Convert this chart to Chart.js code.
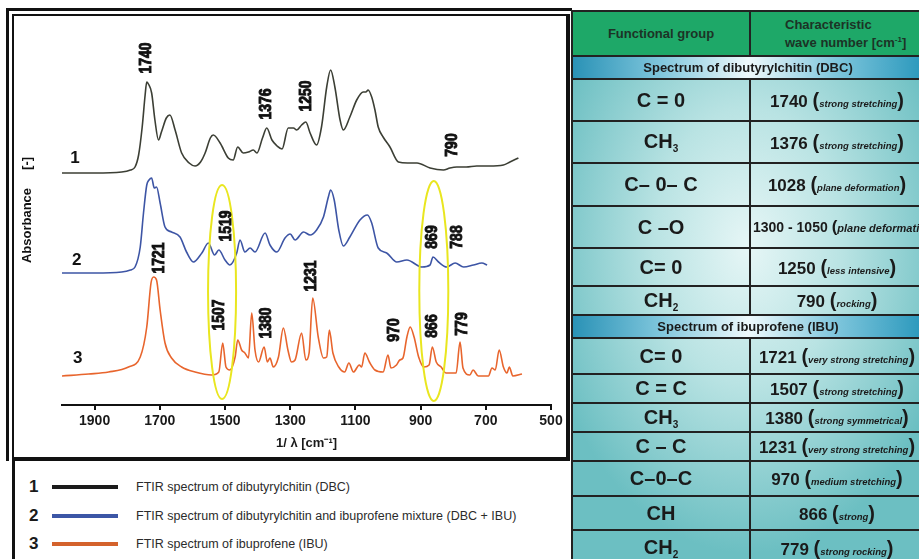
<!DOCTYPE html>
<html>
<head>
<meta charset="utf-8">
<script src="https://cdn.jsdelivr.net/npm/chart.js@4.4.0/dist/chart.umd.min.js"></script>
<style>
  body { margin: 0; width: 919px; height: 559px; overflow: hidden; position: relative; background: #fff;
         font-family: "Liberation Sans", Arial, sans-serif; color: #1a1a1a; }
  #plot { position: absolute; left: 16px; top: 17px; }
  #frameOuter { position: absolute; left: 6px; top: 8px; width: 566px; height: 453px;
                border-left: 3px solid #111; border-top: 3px solid #111; box-sizing: border-box; }
  #frameInner { position: absolute; left: 12px; top: 14px; width: 558px; height: 447px; box-sizing: border-box;
                border-left: 2px solid #111; border-top: 2px solid #111; border-right: 4px solid #111; border-bottom: 4px solid #111; }
  #leftLine { position: absolute; left: 12px; top: 461px; width: 3px; height: 98px; background: #111; }
  .num { position: absolute; font-weight: bold; font-size: 17px; line-height: 20px; }
  .ln { position: absolute; left: 52px; width: 66px; height: 4px; }
  .lt { position: absolute; left: 136px; font-size: 12.5px; line-height: 14px; color: #2b2b2b; white-space: nowrap; }

  #tbl { position: absolute; left: 571px; top: 10px; width: 352px; height: 560px; box-sizing: border-box;
         border-top: 2px solid #222; border-left: 2px solid #222;
         background: radial-gradient(ellipse 60% 55% at 50% 42%, #e6f6f6 0%, #b9e3e3 45%, #6cbfc2 100%); }
  .row { display: flex; box-sizing: border-box; border-bottom: 2px solid #222; }
  .c1 { width: 176px; box-sizing: content-box; border-right: 2px solid #222; display: flex; align-items: center;
        justify-content: center; font-weight: bold; font-size: 20px; white-space: nowrap; }
  .c2 { flex: 1; display: flex; align-items: center; justify-content: center; overflow: hidden; white-space: nowrap;
        font-weight: bold; font-size: 17px; }
  .c2 i { font-size: 9.5px; }
  .c2 .p { font-size: 20px; font-weight: bold; }
  .c1 sub { font-size: 10px; vertical-align: -4px; }
  .head { background: #1ea868; }
  .head .c1, .head .c2 { font-size: 13px; color: #1c3326; }
  .head .c2 { justify-content: flex-start; padding-left: 34px; line-height: 15px; }
  .sec { justify-content: center; align-items: center; font-weight: bold; font-size: 13px;
         background: linear-gradient(90deg, #2a92b6 0%, #7fc6dc 25%, #eef9fc 50%, #7fc6dc 75%, #2a98bc 100%); }
</style>
</head>
<body>
<canvas id="plot" width="551" height="440"></canvas>
<div id="frameOuter"></div>
<div id="frameInner"></div>
<div id="leftLine"></div>

<div class="num" style="left:29px; top:477px">1</div>
<div class="ln" style="top:485px; background:#1b1b1b"></div>
<div class="lt" style="top:480px">FTIR spectrum of dibutyrylchitin (DBC)</div>
<div class="num" style="left:29px; top:506px">2</div>
<div class="ln" style="top:514px; background:#3c56a6"></div>
<div class="lt" style="top:509px">FTIR spectrum of dibutyrylchitin and ibuprofene mixture (DBC + IBU)</div>
<div class="num" style="left:29px; top:534px">3</div>
<div class="ln" style="top:542px; background:#d4622c"></div>
<div class="lt" style="top:537px">FTIR spectrum of ibuprofene (IBU)</div>

<div id="tbl">
  <div class="row head" style="height:45px"><div class="c1">Functional group</div><div class="c2"><span>Characteristic<br>wave number [cm<sup style="font-size:8px">-1</sup>]</span></div></div>
  <div class="row sec" style="height:23px">Spectrum of dibutyrylchitin (DBC)</div>
  <div class="row" style="height:42px"><div class="c1"><span>C = 0</span></div><div class="c2"><span>1740 <span class="p">(</span><i>strong stretching</i><span class="p">)</span></span></div></div>
  <div class="row" style="height:42px"><div class="c1"><span>CH<sub>3</sub></span></div><div class="c2"><span>1376 <span class="p">(</span><i>strong stretching</i><span class="p">)</span></span></div></div>
  <div class="row" style="height:43px"><div class="c1"><span>C– 0– C</span></div><div class="c2"><span>1028 <span class="p">(</span><i>plane deformation</i><span class="p">)</span></span></div></div>
  <div class="row" style="height:42px"><div class="c1"><span>C –O</span></div><div class="c2" style="font-size:14px; justify-content:flex-start; padding-left:2px"><span>1300 - 1050 <span class="p" style="font-size:17px">(</span><i style="font-size:11px">plane deformation</i><span class="p" style="font-size:17px">)</span></span></div></div>
  <div class="row" style="height:38px"><div class="c1"><span>C= 0</span></div><div class="c2"><span>1250 <span class="p">(</span><i>less intensive</i><span class="p">)</span></span></div></div>
  <div class="row" style="height:29px"><div class="c1"><span>CH<sub>2</sub></span></div><div class="c2"><span>790 <span class="p">(</span><i>rocking</i><span class="p">)</span></span></div></div>
  <div class="row sec" style="height:23px">Spectrum of ibuprofene (IBU)</div>
  <div class="row" style="height:36px"><div class="c1"><span>C= 0</span></div><div class="c2"><span>1721 <span class="p">(</span><i>very strong stretching</i><span class="p">)</span></span></div></div>
  <div class="row" style="height:29px"><div class="c1"><span>C = C</span></div><div class="c2"><span>1507 <span class="p">(</span><i>strong stretching</i><span class="p">)</span></span></div></div>
  <div class="row" style="height:29px"><div class="c1"><span>CH<sub>3</sub></span></div><div class="c2"><span>1380 <span class="p">(</span><i>strong symmetrical</i><span class="p">)</span></span></div></div>
  <div class="row" style="height:29px"><div class="c1"><span>C – C</span></div><div class="c2"><span>1231 <span class="p">(</span><i>very strong stretching</i><span class="p">)</span></span></div></div>
  <div class="row" style="height:35px"><div class="c1"><span>C–0–C</span></div><div class="c2"><span>970 <span class="p">(</span><i>medium stretching</i><span class="p">)</span></span></div></div>
  <div class="row" style="height:34px"><div class="c1"><span>CH</span></div><div class="c2"><span>866 <span class="p">(</span><i>strong</i><span class="p">)</span></span></div></div>
  <div class="row" style="height:36px"><div class="c1"><span>CH<sub>2</sub></span></div><div class="c2"><span>779 <span class="p">(</span><i>strong rocking</i><span class="p">)</span></span></div></div>
</div>

<script>
// wavenumber ticks on the x axis
const tickValues = [1900, 1700, 1500, 1300, 1100, 900, 700, 500];

// 1 - dibutyrylchitin (DBC), offset spectrum
const dbcWave = [2000,1900,1817,1790,1776,1765,1754,1745,1740,1735,1725,1715,1704,1695,1680,1669,1653,1633,1610,1592,
  1575,1561,1545,1536,1515,1490,1475,1461,1444,1428,1413,1402,1385,1372,1356,1340,1325,1306,1290,1280,
  1265,1252,1239,1219,1204,1188,1176,1163,1147,1137,1117,1096,1076,1068,1061,1050,1040,1030,1015,994,
  968,940,911,871,830,810,789,760,728,690,646,626,600];
const dbcAbs = [2.32,2.32,2.33,2.35,2.38,2.50,2.78,3.10,3.23,3.21,3.12,2.85,2.65,2.73,2.87,2.90,2.75,2.52,2.42,2.39,
  2.43,2.52,2.67,2.70,2.62,2.47,2.45,2.58,2.52,2.53,2.55,2.52,2.67,2.77,2.65,2.59,2.56,2.77,2.77,2.75,
  2.80,2.83,2.72,2.60,2.78,3.18,3.35,3.18,2.85,2.75,2.88,3.05,3.13,3.13,3.15,3.08,2.95,2.78,2.68,2.58,
  2.43,2.42,2.42,2.37,2.35,2.37,2.38,2.38,2.39,2.39,2.40,2.43,2.47];

// 2 - DBC + IBU mixture
const mixWave = [2000,1900,1817,1790,1776,1760,1750,1740,1733,1725,1717,1710,1699,1684,1664,1638,1618,1597,1571,1551,
  1532,1519,1500,1485,1464,1454,1439,1423,1408,1377,1362,1341,1316,1300,1285,1259,1239,1219,1198,1183,
  1176,1165,1151,1137,1117,1086,1063,1050,1030,1004,973,942,896,871,862,845,820,794,768,738,712,696];
const mixAbs = [1.32,1.32,1.33,1.35,1.38,1.58,1.92,2.20,2.25,2.27,2.17,2.18,2.02,1.78,1.73,1.68,1.53,1.43,1.52,1.62,
  1.50,1.55,1.45,1.40,1.52,1.65,1.53,1.57,1.53,1.72,1.60,1.53,1.67,1.71,1.65,1.73,1.70,1.75,1.88,2.08,
  2.15,2.05,1.75,1.59,1.68,1.85,1.90,1.82,1.57,1.52,1.43,1.45,1.38,1.40,1.48,1.43,1.38,1.42,1.38,1.40,1.42,1.40];

// 3 - ibuprofene (IBU)
const ibuWave = [2000,1918,1857,1796,1760,1740,1727,1719,1710,1699,1684,1664,1633,1592,1541,1519,1507,1497,1485,1469,
  1461,1449,1439,1428,1418,1408,1397,1380,1370,1362,1352,1336,1321,1307,1296,1285,1265,1252,1242,1231,
  1214,1198,1188,1180,1169,1151,1133,1120,1106,1088,1081,1071,1057,1040,1015,1000,991,974,964,954,
  942,932,920,906,890,874,864,852,837,822,791,779,770,749,739,723,692,681,671,659,646,635,628,617,589];
const ibuAbs = [0.29,0.31,0.33,0.38,0.48,0.78,1.22,1.28,1.25,0.95,0.62,0.47,0.38,0.33,0.30,0.33,0.62,0.38,0.35,0.48,
  0.65,0.55,0.52,0.47,0.92,0.55,0.43,0.58,0.43,0.47,0.38,0.48,0.77,0.55,0.43,0.45,0.72,0.45,0.52,1.07,
  0.68,0.47,0.48,0.75,0.52,0.38,0.33,0.42,0.33,0.40,0.38,0.52,0.43,0.35,0.33,0.50,0.37,0.40,0.45,0.47,
  0.68,0.78,0.68,0.48,0.38,0.40,0.58,0.43,0.38,0.32,0.32,0.63,0.37,0.30,0.35,0.29,0.29,0.37,0.35,0.55,0.38,0.32,0.38,0.29,0.31];

// peak annotations: text, and where it sits (cm-1, absorbance)
const peakText = ['1740','1376','1250','790','1519','869','788','1721','1507','1380','1231','970','866','779'];
const peakAtWave = [1739,1372,1249,801,1495,862,785,1699,1515,1372,1234,979,862,770];
const peakAtAbs = [3.47,3.01,3.09,2.60,1.79,1.68,1.68,1.47,0.90,0.82,1.29,0.75,0.79,0.81];

// curve numbers
const curveText = ['1','2','3'];
const curveAtWave = [1960,1955,1952];
const curveAtAbs = [2.47,1.45,0.47];

// yellow rings round the 1519/1507 and 869/866 bands
const rings = [
  {from: 1552, to: 1466, top: 2.20, bottom: 0.06},
  {from: 904, to: 815, top: 2.24, bottom: 0.04}
];

const FONT = '"Liberation Sans", Arial, sans-serif';
Chart.defaults.font.family = FONT;

const pts = (w, a) => w.map((v, i) => ({x: v, y: a[i]}));

const overlay = {
  id: 'overlay',
  afterDatasetsDraw(chart) {
    const {ctx, chartArea, scales: {x, y}} = chart;
    ctx.save();
    ctx.strokeStyle = '#e9e61f';
    ctx.lineWidth = 2;
    rings.forEach(r => {
      const x1 = x.getPixelForValue(r.from), x2 = x.getPixelForValue(r.to);
      const y1 = y.getPixelForValue(r.top), y2 = y.getPixelForValue(r.bottom);
      ctx.beginPath();
      ctx.ellipse((x1 + x2) / 2, (y1 + y2) / 2, Math.abs(x2 - x1) / 2, Math.abs(y2 - y1) / 2, 0, 0, Math.PI * 2);
      ctx.stroke();
    });

    ctx.fillStyle = '#111';
    ctx.strokeStyle = '#111';
    ctx.lineWidth = 0.9;
    ctx.textAlign = 'center';
    ctx.textBaseline = 'middle';
    ctx.font = 'bold 15px ' + FONT;
    peakText.forEach((t, i) => {
      ctx.save();
      ctx.translate(x.getPixelForValue(peakAtWave[i]), y.getPixelForValue(peakAtAbs[i]));
      ctx.rotate(-Math.PI / 2);
      ctx.scale(0.93, 1.05);
      ctx.fillText(t, 0, 0);
      ctx.strokeText(t, 0, 0);
      ctx.restore();
    });

    ctx.font = 'bold 17px ' + FONT;
    curveText.forEach((t, i) => {
      ctx.fillText(t, x.getPixelForValue(curveAtWave[i]), y.getPixelForValue(curveAtAbs[i]));
    });

    // y axis caption (no ticks on this axis)
    ctx.font = 'bold 13px ' + FONT;
    ctx.save();
    ctx.translate(chartArea.left - 35, 193);
    ctx.rotate(-Math.PI / 2);
    ctx.fillText('Absorbance     [-]', 0, 0);
    ctx.restore();
    ctx.restore();
  }
};

new Chart(document.getElementById('plot'), {
  type: 'line',
  data: {
    datasets: [
      {label: 'DBC', data: pts(dbcWave, dbcAbs), borderColor: '#3c3f35'},
      {label: 'DBC + IBU', data: pts(mixWave, mixAbs), borderColor: '#3d55a5'},
      {label: 'IBU', data: pts(ibuWave, ibuAbs), borderColor: '#e8652d'}
    ]
  },
  options: {
    responsive: false,
    animation: false,
    layout: {padding: {left: 46, right: 16, top: 3, bottom: 0}},
    elements: {
      line: {borderWidth: 1.6, cubicInterpolationMode: 'monotone'},
      point: {radius: 0}
    },
    plugins: {legend: {display: false}, tooltip: {enabled: false}},
    scales: {
      x: {
        type: 'linear', min: 500, max: 2000, reverse: true,
        afterBuildTicks: s => { s.ticks = tickValues.map(v => ({value: v})); },
        afterFit: s => { s.height = 52; },
        border: {display: true, color: '#111', width: 2},
        grid: {drawOnChartArea: false, drawTicks: true, tickLength: 5, color: '#111', lineWidth: 2},
        ticks: {color: '#1a1a1a', font: {size: 14, weight: 'bold'}, padding: 3, autoSkip: false, maxRotation: 0,
                callback: v => String(v)},
        title: {display: true, text: '1/ λ [cm⁻¹]', color: '#1a1a1a', font: {size: 13, weight: 'bold'},
                padding: {top: 2, bottom: 6}}
      },
      y: {display: false, min: 0, max: 3.85}
    }
  },
  plugins: [overlay]
});
</script>
</body>
</html>
